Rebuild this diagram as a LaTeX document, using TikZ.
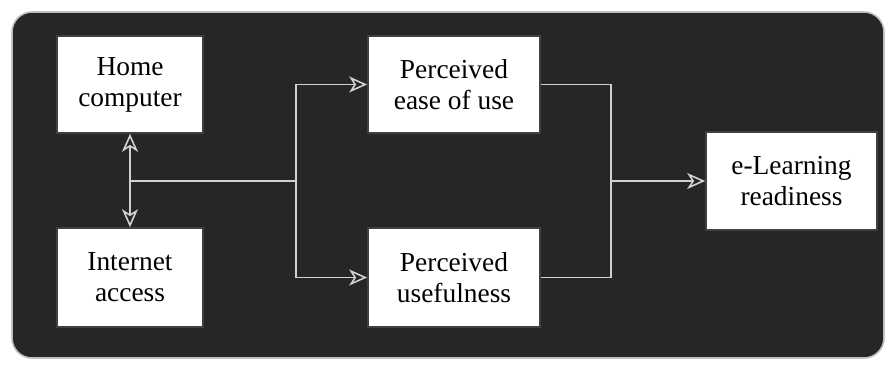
\documentclass[tikz,border=0pt]{standalone}
\usepackage{fontspec}
\setmainfont{Liberation Serif}
\usetikzlibrary{arrows.meta,calc}
\tikzset{box/.style={%
        rectangle,
        fill=white,
        draw=black!75,
        line width=0.8pt,
        align=center,
        font=\fontsize{13.7}{15.5}\selectfont}}
\tikzset{link/.style={draw=black!18,line width=0.8pt,>={Stealth[open,length=9pt,width=8pt,inset=2.5pt,fill=black!85]}}}

\begin{document}
\begin{tikzpicture}[x=0.5pt,y=-0.5pt]
  \useasboundingbox (0,0) rectangle (894,370);
  \draw [rounded corners=10pt,fill=black!85,draw=black!25,line width=0.8pt] (12,12) rectangle (884,358);
  \node [box,minimum width=73pt,minimum height=48.5pt] (home) at (130,84.5) {Home\\computer};
  \node [box,minimum width=73pt,minimum height=49.5pt] (inet) at (130,277.5) {Internet\\access};
  \node [box,minimum width=86pt,minimum height=48.5pt] (ease) at (454,84.5) {Perceived\\ease of use};
  \node [box,minimum width=86pt,minimum height=49.5pt] (useful) at (454,277.5) {Perceived\\usefulness};
  \node [box,minimum width=85.5pt,minimum height=49pt] (elearn) at (791.5,181) {e-Learning\\readiness};
  \coordinate (j1) at (130,181);
  \coordinate (split) at (296,181);
  \coordinate (merge) at (611,181);
  \draw [link,<->] (home) -- (inet);
  \draw [link] (j1) -- (split);
  \draw [link,->] (split) |- (ease.west);
  \draw [link,->] (split) |- (useful.west);
  \draw [link] (ease.east) -| (merge);
  \draw [link] (useful.east) -| (merge);
  \draw [link,->] (merge) -- (elearn);
\end{tikzpicture}
\end{document}
